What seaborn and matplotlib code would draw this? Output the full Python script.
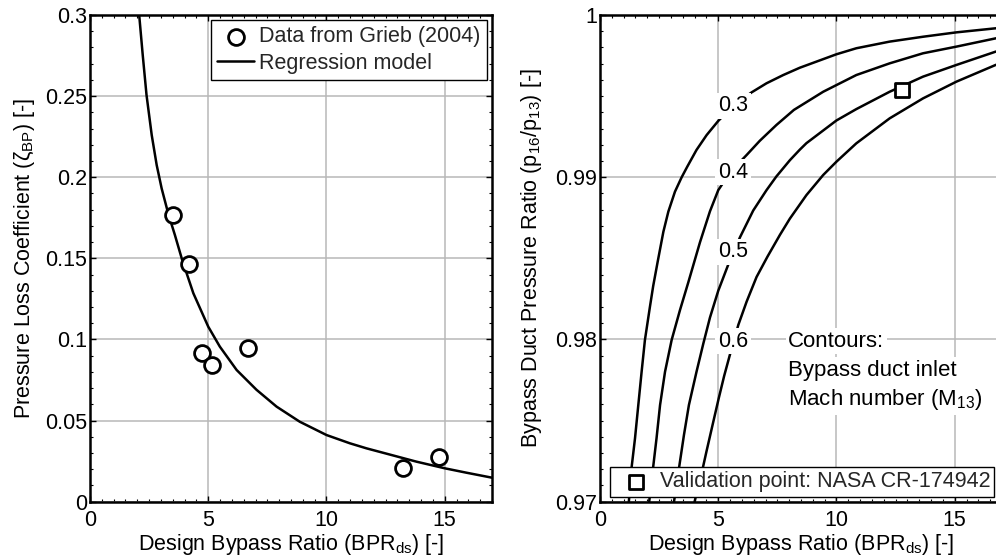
import numpy as np
import pandas as pd
import seaborn as sns
import matplotlib
matplotlib.use("Agg")
import matplotlib.pyplot as plt
from matplotlib.ticker import MultipleLocator

# ---------------- data ----------------
# Left panel: Grieb (2004) data points
grieb_bpr = [3.51, 4.20, 4.72, 5.14, 6.69, 13.25, 14.74]
grieb_zeta = [0.177, 0.1465, 0.0915, 0.0840, 0.0945, 0.0205, 0.0278]

# Left panel: regression model curve
reg_bpr = [2.08, 2.23, 2.39, 2.61, 2.82, 3.03, 3.31, 3.59, 3.90, 4.37, 5.00, 5.49, 6.20,
           7.04, 7.89, 8.87, 10.0, 10.99, 11.69, 13.80, 15.0, 15.91, 17.0]
reg_zeta = [0.300, 0.2753, 0.2507, 0.2260, 0.2075, 0.1931, 0.1775, 0.1644, 0.1489,
            0.1285, 0.1079, 0.0956, 0.0812, 0.0690, 0.0586, 0.0493, 0.0411, 0.0360,
            0.0329, 0.0247, 0.0206, 0.0179, 0.0148]

# Right panel: contour lines of bypass duct inlet Mach number
mach_levels = ["0.3", "0.4", "0.5", "0.6"]
c03_bpr = [1.22, 1.34, 1.48, 1.62, 1.76, 1.90, 2.11, 2.25, 2.44, 2.68, 2.89, 3.17, 3.45,
           3.69, 4.08, 4.51, 5.00, 5.63, 6.41, 7.04, 7.75, 8.45, 10.0, 10.84, 12.25,
           13.66, 15.07, 16.73, 17.2]
c03_pr = [0.9700, 0.97216, 0.97390, 0.97596, 0.97801, 0.97997, 0.98200, 0.98330, 0.98480,
          0.98664, 0.98788, 0.98911, 0.98999, 0.99065, 0.99168, 0.99260, 0.99347, 0.99441,
          0.99523, 0.99579, 0.99630, 0.99675, 0.99758, 0.99795, 0.99836, 0.99866, 0.99893,
          0.99918, 0.99924]
c04_bpr = [2.08, 2.25, 2.39, 2.54, 2.75, 3.03, 3.38, 3.73, 4.00, 4.23, 4.65, 5.00, 5.50,
           6.20, 6.76, 7.46, 8.20, 9.44, 10.84, 12.25, 13.66, 15.07, 16.73, 17.2]
c04_pr = [0.9700, 0.97216, 0.97390, 0.97596, 0.97801, 0.97997, 0.98180, 0.98350, 0.98485,
          0.98600, 0.98790, 0.98920, 0.99030, 0.99137, 0.99225, 0.99322, 0.99415, 0.99527,
          0.99630, 0.99702, 0.99764, 0.99805, 0.99856, 0.99866]
c05_bpr = [3.13, 3.35, 3.55, 3.76, 4.08, 4.37, 4.65, 5.00, 5.42, 5.92, 6.48, 7.04, 7.46,
           8.03, 8.45, 8.73, 10.0, 10.84, 12.25, 13.66, 15.07, 16.73, 17.2]
c05_pr = [0.9700, 0.97216, 0.97411, 0.97596, 0.97800, 0.97975, 0.98135, 0.98300, 0.98460,
          0.98630, 0.98795, 0.98920, 0.99005, 0.99105, 0.99170, 0.99210, 0.99350, 0.99420,
          0.99527, 0.99620, 0.99692, 0.99774, 0.99790]
c06_bpr = [4.00, 4.36, 4.50, 4.76, 5.02, 5.25, 5.49, 5.85, 6.20, 6.62, 7.08, 7.61, 8.03,
           8.73, 9.44, 10.0, 10.84, 12.25, 13.66, 15.07, 16.73, 17.2]
c06_pr = [0.9700, 0.97216, 0.97308, 0.97473, 0.97637, 0.97775, 0.97904, 0.98090, 0.98233,
          0.98385, 0.98510, 0.98645, 0.98745, 0.98890, 0.99014, 0.99096, 0.99209, 0.99363,
          0.99486, 0.99589, 0.99692, 0.99715]
label_bpr = [5.63, 5.63, 5.63, 5.63]
label_pr = [0.99441, 0.99030, 0.98541, 0.97990]

# Validation point NASA CR-174942
val_bpr = [12.77]
val_pr = [0.99538]

# ---------------- style ----------------
sns.set_theme(style="ticks")
plt.rcParams["font.family"] = ["Liberation Sans", "DejaVu Sans"]
plt.rcParams["mathtext.fontset"] = "custom"
plt.rcParams["mathtext.rm"] = "Liberation Sans"
plt.rcParams["mathtext.it"] = "Liberation Sans"
TICK_FS = 15.5
LAB_FS = 15.5
LEG_FS = 15.5
NOTE_FS = 16

fig = plt.figure(figsize=(9.96, 5.6), dpi=100)
axL = fig.add_axes([90 / 996, 1 - 501.7 / 560, 402 / 996, 486.7 / 560])
axR = fig.add_axes([600 / 996, 1 - 501.7 / 560, 402 / 996, 486.7 / 560])


def style_axes(ax):
    ax.grid(True, which="major", color="#b8b8b8", linewidth=1.1)
    ax.set_axisbelow(True)
    for s in ax.spines.values():
        s.set_linewidth(1.8)
        s.set_color("black")
        s.set_visible(True)
    ax.tick_params(which="both", direction="in", top=True, right=True,
                   color="black", labelsize=TICK_FS, labelcolor="black")
    ax.tick_params(which="major", length=4, width=1.0)
    ax.tick_params(which="minor", length=2.5, width=0.8)
    ax.tick_params(axis="x", which="major", pad=6)
    ax.tick_params(axis="y", which="major", pad=2)
    ax.set_facecolor("white")


# ---------------- left panel ----------------
df_reg = pd.DataFrame({"bpr": reg_bpr, "zeta": reg_zeta})
df_grieb = pd.DataFrame({"bpr": grieb_bpr, "zeta": grieb_zeta})
sns.lineplot(data=df_reg, x="bpr", y="zeta", ax=axL, color="black", linewidth=1.8,
             label="Regression model", zorder=3)
sns.scatterplot(data=df_grieb, x="bpr", y="zeta", ax=axL, marker="o", s=130,
                facecolor="white", edgecolor="black", linewidth=2,
                label="Data from Grieb (2004)", zorder=4)
axL.set_xlim(0, 17)
axL.set_ylim(0, 0.3)
axL.set_yticks([0, 0.05, 0.1, 0.15, 0.2, 0.25, 0.3])
axL.set_yticklabels(["0", "0.05", "0.1", "0.15", "0.2", "0.25", "0.3"])
axL.yaxis.set_minor_locator(MultipleLocator(0.01))
axL.set_xticks([0, 5, 10, 15])
axL.set_xticklabels(["0", "5", "10", "15"])
axL.xaxis.set_minor_locator(MultipleLocator(0.5))
style_axes(axL)
axL.set_xlabel("Design Bypass Ratio (BPR$_{\\rm ds}$) [-]", fontsize=LAB_FS, labelpad=1, color="black")
axL.set_ylabel("Pressure Loss Coefficient ($\\zeta_{\\rm BP}$) [-]", fontsize=LAB_FS, labelpad=6, color="black")
h, l = axL.get_legend_handles_labels()
legL = axL.legend(h[::-1], l[::-1], loc="upper right", fontsize=LEG_FS, frameon=True,
                  fancybox=False, edgecolor="black", framealpha=1, borderpad=0.3,
                  handlelength=1.72, handletextpad=0.23, labelspacing=0.25,
                  borderaxespad=0.23)
legL.get_frame().set_linewidth(1.0)

# ---------------- right panel ----------------
frames = []
for lev, bx, py in zip(mach_levels, [c03_bpr, c04_bpr, c05_bpr, c06_bpr],
                       [c03_pr, c04_pr, c05_pr, c06_pr]):
    frames.append(pd.DataFrame({"bpr": bx, "pr": py, "mach": lev}))
df_c = pd.concat(frames, ignore_index=True)
sns.lineplot(data=df_c, x="bpr", y="pr", hue="mach", units="mach", estimator=None,
             sort=False, palette=["black"] * 4, linewidth=1.8, ax=axR, legend=False,
             zorder=3)
for lev, bx, py in zip(mach_levels, label_bpr, label_pr):
    axR.text(bx, py, lev, ha="center", va="center", fontsize=TICK_FS, zorder=5,
             color="black",
             bbox=dict(boxstyle="square,pad=0.12", facecolor="white", edgecolor="none"))
df_val = pd.DataFrame({"bpr": val_bpr, "pr": val_pr})
sns.scatterplot(data=df_val, x="bpr", y="pr", ax=axR, marker="s", s=110,
                facecolor="white", edgecolor="black", linewidth=2,
                label="Validation point: NASA CR-174942", zorder=6)
axR.set_xlim(0, 17)
axR.set_ylim(0.97, 1.0)
axR.set_xticks([0, 5, 10, 15])
axR.set_xticklabels(["0", "5", "10", "15"])
axR.xaxis.set_minor_locator(MultipleLocator(0.5))
axR.set_yticks([0.97, 0.98, 0.99, 1.0])
axR.set_yticklabels(["0.97", "0.98", "0.99", "1"])
axR.yaxis.set_minor_locator(MultipleLocator(0.001))
style_axes(axR)
axR.set_xlabel("Design Bypass Ratio (BPR$_{\\rm ds}$) [-]", fontsize=LAB_FS, labelpad=1, color="black")
axR.set_ylabel("Bypass Duct Pressure Ratio (p$_{16}$/p$_{13}$) [-]", fontsize=LAB_FS, labelpad=8, color="black")
txt_kw = dict(ha="left", va="center", fontsize=NOTE_FS, zorder=5, color="black",
              bbox=dict(boxstyle="square,pad=0.12", facecolor="white", edgecolor="none"))
axR.text(7.96, 0.9799, "Contours:", **txt_kw)
axR.text(7.96, 0.97808, "Bypass duct inlet", **txt_kw)
axR.text(7.96, 0.97630, "Mach number (M$_{13}$)", **txt_kw)
legR = axR.legend(loc="lower left", bbox_to_anchor=(10 / 402, 5 / 486.7, 1, 1),
                  bbox_transform=axR.transAxes, fontsize=LEG_FS, frameon=True,
                  fancybox=False, edgecolor="black", framealpha=1, borderpad=0.2,
                  handlelength=2.0, handletextpad=0.1, borderaxespad=0.0)
legR.get_frame().set_linewidth(1.0)
legR.set_zorder(10)

fig.savefig("out.png", dpi=100)
